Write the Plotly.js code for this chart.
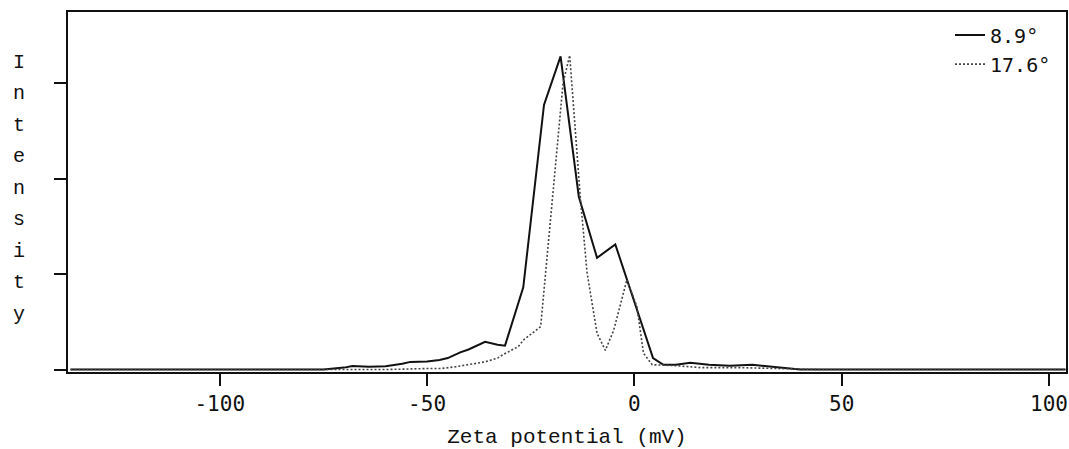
<!DOCTYPE html>
<html>
<head>
<meta charset="utf-8">
<script src="https://cdn.plot.ly/plotly-3.0.1.min.js"></script>
<style>html,body{margin:0;padding:0;background:#fff;}#chart{width:1069px;height:449px;}</style>
</head>
<body>
<div id="chart"></div>
<script>
// Data
const zeta89 = [-136, -80, -75, -70, -68, -64, -60, -56, -54, -50, -47, -45, -42, -40, -36, -33, -31.2, -26.8, -21.8, -17.8, -13.4, -9, -4.6, 4.5, 7, 10, 13.5, 18, 23, 28.5, 33, 40, 104];
const int89  = [0, 0, 0, 0.02, 0.037, 0.03, 0.035, 0.06, 0.08, 0.085, 0.1, 0.12, 0.18, 0.21, 0.29, 0.26, 0.25, 0.86, 2.77, 3.28, 1.81, 1.17, 1.31, 0.12, 0.05, 0.05, 0.07, 0.05, 0.04, 0.05, 0.03, 0, 0];

const zeta176 = [-136, -75, -60, -50, -46.7, -43, -40.3, -36, -33, -31.5, -28, -26.7, -22.6, -20.7, -18.6, -17.2, -15.6, -13.0, -11.4, -9.0, -7.0, -5.0, -1.8, 0.6, 2.2, 4.3, 10, 16, 25, 35, 45, 104];
const int176  = [0, 0, 0, 0.01, 0.01, 0.03, 0.05, 0.08, 0.12, 0.16, 0.24, 0.31, 0.45, 1.36, 2.40, 3.0, 3.29, 1.78, 1.01, 0.38, 0.2, 0.41, 0.94, 0.66, 0.17, 0.05, 0.04, 0.02, 0.02, 0.01, 0, 0];

const seriesNames = ["8.9°", "17.6°"];
const xTickVals = [-100, -50, 0, 50, 100];
const xTickText = ["-100", "-50", "0", "50", "100"];
const yTickVals = [0, 1, 2, 3];
const xTitle = "Zeta potential (mV)";
const yTitle = "Intensity";

const serifMono = "Liberation Mono, DejaVu Sans Mono, monospace";
const sansMono = "DejaVu Sans Mono, Liberation Mono, monospace";

const traces = [
  {x: zeta89, y: int89, name: seriesNames[0], type: "scatter", mode: "lines",
   line: {color: "#111", width: 2}},
  {x: zeta176, y: int176, name: seriesNames[1], type: "scatter", mode: "lines",
   line: {color: "#444", width: 1.6, dash: "2px,2px"}}
];

// vertical stacked y title letters
const annotations = [];
yTitle.split("").forEach((ch, i) => {
  annotations.push({
    text: ch, xref: "paper", yref: "paper",
    x: -0.049, y: 0.861 - i * 0.0875,
    xanchor: "center", yanchor: "middle", showarrow: false,
    font: {family: serifMono, size: 20, color: "#111"}
  });
});

const layout = {
  width: 1069, height: 449,
  margin: {l: 68, r: 3, t: 12, b: 77},
  paper_bgcolor: "#fff", plot_bgcolor: "#fff",
  showlegend: true,
  legend: {x: 0.99, y: 0.99, xanchor: "right", yanchor: "top", bgcolor: "rgba(0,0,0,0)",
           font: {family: sansMono, size: 20, color: "#111"}, borderwidth: 0, tracegroupgap: 0},
  xaxis: {
    range: [-136.6, 104.1], showgrid: false, zeroline: false,
    showline: true, linecolor: "#111", linewidth: 2, mirror: true,
    ticks: "outside", ticklen: 12, tickwidth: 2, tickcolor: "#111",
    tickvals: xTickVals, ticktext: xTickText,
    tickfont: {family: sansMono, size: 21, color: "#111"},
    title: {text: xTitle, font: {family: serifMono, size: 21, color: "#111"}, standoff: 17}
  },
  yaxis: {
    range: [-0.026, 3.744], showgrid: false, zeroline: false,
    showline: true, linecolor: "#111", linewidth: 2, mirror: true,
    ticks: "outside", ticklen: 12, tickwidth: 2, tickcolor: "#111",
    tickvals: yTickVals, showticklabels: false
  },
  annotations: annotations
};

Plotly.newPlot("chart", traces, layout, {displayModeBar: false, staticPlot: true});
</script>
</body>
</html>
